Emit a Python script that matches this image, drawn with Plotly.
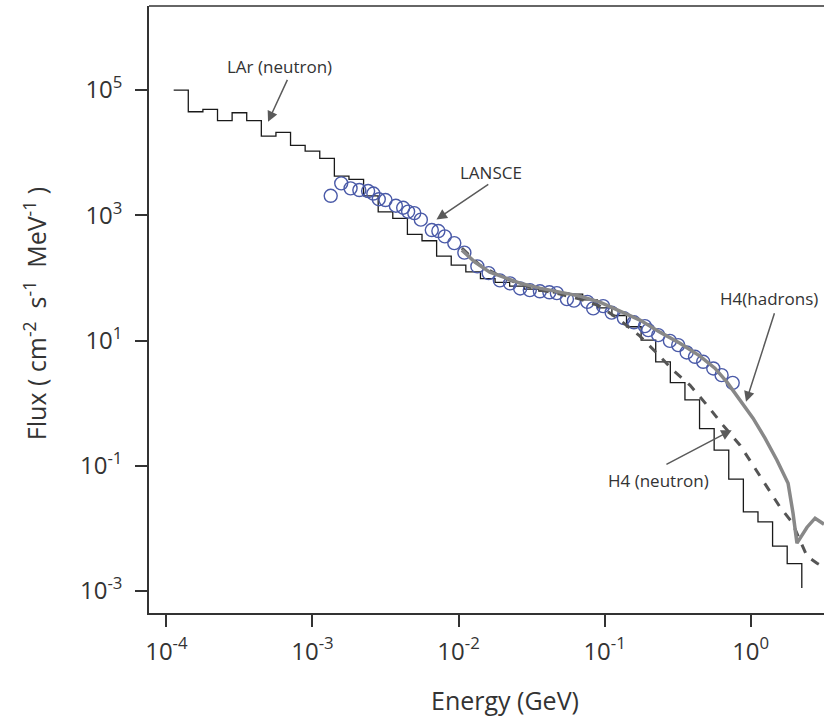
import plotly.graph_objects as go

# ---------------- data (log10 values) ----------------
# LAr (neutron) histogram: left bin edges log10(E/GeV) and log10(flux)
lar_edges_log = [-3.95, -3.85, -3.75, -3.65, -3.55, -3.45, -3.35, -3.25, -3.15, -3.05,
                 -2.95, -2.85, -2.75, -2.65, -2.55, -2.45, -2.35, -2.25, -2.15, -2.05,
                 -1.95, -1.85, -1.75, -1.65, -1.55, -1.45, -1.35, -1.25, -1.15, -1.05,
                 -0.95, -0.85, -0.75, -0.65, -0.55, -0.45, -0.35, -0.25, -0.15, -0.05,
                 0.05, 0.15, 0.25]
lar_end_log = 0.35
lar_flux_log = [5.00, 4.653, 4.692, 4.51, 4.637, 4.51, 4.265, 4.324, 4.117, 4.026,
                3.909, 3.626, 3.574, 3.31, 3.056, 2.95, 2.695, 2.593, 2.348, 2.204,
                2.097, 1.99, 1.93, 1.87, 1.82, 1.79, 1.76, 1.74, 1.65, 1.52,
                1.40, 1.22, 1.006, 0.66, 0.327, 0.053, -0.407, -0.751, -1.214, -1.737,
                -1.896, -2.284, -2.561]
lar_tail_log = -2.95

# LANSCE data points
lansce_e_log = [-2.875, -2.803, -2.739, -2.679, -2.619, -2.583, -2.546, -2.500, -2.429, -2.379,
                -2.345, -2.303, -2.258, -2.183, -2.138, -2.094, -2.029, -1.960, -1.871, -1.794,
                -1.717, -1.647, -1.578, -1.512, -1.443, -1.378, -1.327, -1.258, -1.210, -1.118,
                -1.078, -1.010, -0.952, -0.868, -0.799, -0.724, -0.701, -0.633, -0.553, -0.496,
                -0.438, -0.381, -0.325, -0.256, -0.199, -0.123]
lansce_f_log = [3.311, 3.510, 3.430, 3.403, 3.387, 3.347, 3.256, 3.243, 3.152, 3.120,
                3.059, 3.035, 2.930, 2.764, 2.748, 2.663, 2.556, 2.404, 2.184, 2.077,
                1.960, 1.912, 1.832, 1.805, 1.786, 1.770, 1.757, 1.661, 1.637, 1.618,
                1.513, 1.550, 1.446, 1.358, 1.291, 1.230, 1.166, 1.086, 0.995, 0.927,
                0.810, 0.740, 0.660, 0.554, 0.447, 0.324]

# H4 (hadrons)
h4h_e_log = [-1.977, -1.888, -1.786, -1.683, -1.580, -1.443, -1.306, -1.169, -1.032, -0.895,
             -0.758, -0.621, -0.484, -0.347, -0.245, -0.162, -0.073, 0.016, 0.098, 0.180,
             0.256, 0.290, 0.317, 0.386, 0.441, 0.502]
h4h_f_log = [2.444, 2.252, 2.092, 1.997, 1.917, 1.837, 1.773, 1.709, 1.613, 1.470,
             1.326, 1.134, 0.958, 0.751, 0.559, 0.335, 0.048, -0.240, -0.559, -0.911,
             -1.278, -1.757, -2.236, -1.981, -1.837, -1.933]

# H4 (neutron)
h4n_e_log = [-1.977, -1.854, -1.717, -1.580, -1.443, -1.306, -1.169, -1.032, -0.895, -0.758,
             -0.642, -0.532, -0.416, -0.299, -0.190, -0.073, 0.016, 0.112, 0.201, 0.283,
             0.338, 0.386, 0.454, 0.502]
h4n_f_log = [2.476, 2.204, 2.029, 1.901, 1.805, 1.741, 1.661, 1.550, 1.326, 1.070,
             0.799, 0.527, 0.288, -0.032, -0.351, -0.671, -0.990, -1.342, -1.661, -1.901,
             -2.188, -2.444, -2.556, -2.62]

x_tick_exp = [-4, -3, -2, -1, 0]
y_tick_exp = [5, 3, 1, -1, -3]

# ---------------- figure ----------------
def p10(v):
    return [10 ** a for a in v]

FONT = "Open Sans"
TXT = "#333333"

fig = go.Figure()

step_x = p10(lar_edges_log) + [10 ** lar_end_log, 10 ** lar_end_log]
step_y = p10(lar_flux_log) + [10 ** lar_flux_log[-1], 10 ** lar_tail_log]
fig.add_trace(go.Scatter(x=step_x, y=step_y, mode="lines", line_shape="hv",
                         line=dict(color="#1a1a1a", width=1.3), showlegend=False,
                         name="LAr (neutron)"))

fig.add_trace(go.Scatter(x=p10(lansce_e_log), y=p10(lansce_f_log), mode="markers",
                         marker=dict(symbol="circle-open", size=13, color="#4a5aa8",
                                     line=dict(width=1.4, color="#4a5aa8")),
                         showlegend=False, name="LANSCE"))

fig.add_trace(go.Scatter(x=p10(h4n_e_log), y=p10(h4n_f_log), mode="lines",
                         line=dict(color="#555555", width=3, dash="dash"),
                         showlegend=False, name="H4 (neutron)"))

fig.add_trace(go.Scatter(x=p10(h4h_e_log), y=p10(h4h_f_log), mode="lines",
                         line=dict(color="#888888", width=3.5),
                         showlegend=False, name="H4(hadrons)"))

axis_common = dict(type="log", showline=True, linecolor="#333333", linewidth=1.5,
                   ticks="outside", ticklen=12, tickwidth=1.5, tickcolor="#333333",
                   showgrid=False, zeroline=False,
                   tickfont=dict(family=FONT, size=24, color=TXT))

fig.update_xaxes(range=[-4.119, 0.502],
                 tickvals=[10 ** e for e in x_tick_exp],
                 ticktext=["10<sup>%d</sup>" % e for e in x_tick_exp],
                 ticklabelstandoff=4, **axis_common)
fig.update_yaxes(range=[-3.351, 6.342],
                 tickvals=[10 ** e for e in y_tick_exp],
                 ticktext=["10<sup>%d</sup>" % e for e in y_tick_exp],
                 ticklabelstandoff=8, **axis_common)

fig.add_shape(type="line", xref="paper", yref="paper", x0=0, x1=1, y0=1, y1=1,
              line=dict(color="#333333", width=1.5))

arrow_style = dict(showarrow=True, arrowhead=2, arrowsize=1.4, arrowwidth=1.5,
                   arrowcolor="#5a5a5a", text="", xref="x", yref="y", axref="x", ayref="y")
# arrows (tip x,y ; tail ax,ay) in log10 units
for tip, tail in [((-3.304, 4.494), (-3.167, 5.187)),
                  ((-2.151, 2.934), (-1.786, 3.509)),
                  ((-0.032, 0.021), (0.166, 1.458)),
                  ((-0.130, -0.431), (-0.587, -0.990))]:
    fig.add_annotation(x=tip[0], y=tip[1], ax=tail[0], ay=tail[1], **arrow_style)

for txt, x, y in [("LAr (neutron)", -3.227, 5.383),
                  ("LANSCE", -1.779, 3.690),
                  ("H4(hadrons)", 0.126, 1.677),
                  ("H4 (neutron)", -0.630, -1.230)]:
    fig.add_annotation(x=x, y=y, xref="x", yref="y", text=txt, showarrow=False,
                       font=dict(family=FONT, size=17, color=TXT))

fig.add_annotation(xref="paper", yref="paper", x=(35 - 149) / 675, y=(612.7 - 314) / 606.7,
                   xanchor="center", yanchor="middle",
                   text="Flux ( cm<sup>-2</sup>  s<sup>-1</sup>  MeV<sup>-1</sup> )",
                   textangle=-90, showarrow=False,
                   font=dict(family=FONT, size=25, color=TXT))
fig.add_annotation(xref="paper", yref="paper", x=(505 - 149) / 675, y=(612.7 - 700) / 606.7,
                   xanchor="center", yanchor="middle",
                   text="Energy (GeV)", showarrow=False,
                   font=dict(family=FONT, size=25, color=TXT))

fig.update_layout(width=824, height=719,
                  margin=dict(l=149, r=0, t=6, b=106),
                  plot_bgcolor="white", paper_bgcolor="white")

fig.write_html("out.html", config={"displayModeBar": False},
               post_script="document.body.style.margin='0';document.body.style.padding='0';")
